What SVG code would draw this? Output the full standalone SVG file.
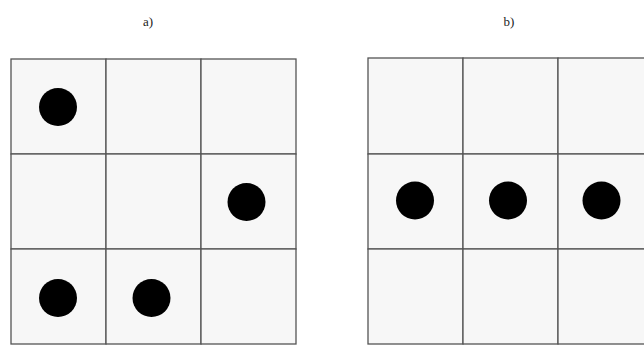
<svg xmlns="http://www.w3.org/2000/svg" width="644" height="346" viewBox="0 0 644 346">
<style>
.cell{fill:#f7f7f7;stroke:#555;stroke-width:1.3}
.dot{fill:#000}
.lbl{font-family:"Liberation Serif",serif;font-size:13px;fill:#222;text-anchor:middle}
</style>
<rect width="644" height="346" fill="#fff"/>
<g id="grid-a">
<text class="lbl" x="148" y="26">a)</text>
<rect class="cell" x="11" y="59" width="95" height="95"/>
<rect class="cell" x="106" y="59" width="95" height="95"/>
<rect class="cell" x="201" y="59" width="95" height="95"/>
<rect class="cell" x="11" y="154" width="95" height="95"/>
<rect class="cell" x="106" y="154" width="95" height="95"/>
<rect class="cell" x="201" y="154" width="95" height="95"/>
<rect class="cell" x="11" y="249" width="95" height="95"/>
<rect class="cell" x="106" y="249" width="95" height="95"/>
<rect class="cell" x="201" y="249" width="95" height="95"/>
<circle class="dot" cx="58" cy="107" r="19"/>
<circle class="dot" cx="246.5" cy="202" r="19"/>
<circle class="dot" cx="58" cy="298" r="19"/>
<circle class="dot" cx="151.5" cy="298" r="19"/>
</g>
<g id="grid-b">
<text class="lbl" x="509" y="26">b)</text>
<rect class="cell" x="368" y="58" width="95" height="96"/>
<rect class="cell" x="463" y="58" width="95" height="96"/>
<rect class="cell" x="558" y="58" width="95" height="96"/>
<rect class="cell" x="368" y="154" width="95" height="95"/>
<rect class="cell" x="463" y="154" width="95" height="95"/>
<rect class="cell" x="558" y="154" width="95" height="95"/>
<rect class="cell" x="368" y="249" width="95" height="95"/>
<rect class="cell" x="463" y="249" width="95" height="95"/>
<rect class="cell" x="558" y="249" width="95" height="95"/>
<circle class="dot" cx="415" cy="200.5" r="19"/>
<circle class="dot" cx="508" cy="200.5" r="19"/>
<circle class="dot" cx="601.5" cy="200.5" r="19"/>
</g>
<g id="connectors"></g>
</svg>
